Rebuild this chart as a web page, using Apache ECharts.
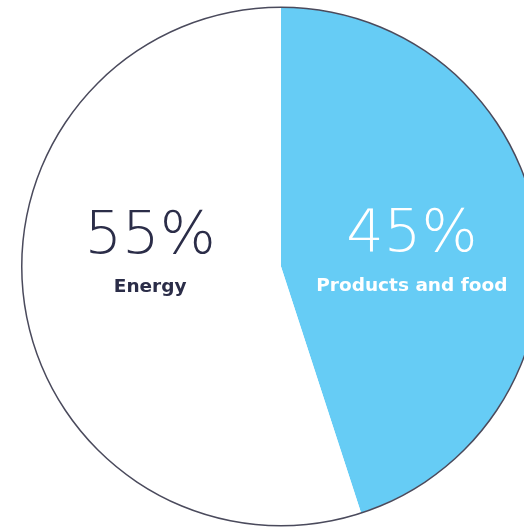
<!DOCTYPE html>
<html>
<head>
<meta charset="utf-8">
<script src="https://cdn.jsdelivr.net/npm/echarts@6/dist/echarts.min.js"></script>
<style>
html,body{margin:0;padding:0;background:#fff;}
#chart{width:524px;height:527px;}
</style>
</head>
<body>
<div id="chart"></div>
<script>
var categories = ['Products and food', 'Energy'];
var shares = [45, 55];
var sliceColors = ['#66ccf5', '#ffffff'];
var labelColors = ['#ffffff', '#2b2d48'];

var chart = echarts.init(document.getElementById('chart'), null, {renderer: 'canvas'});
var labelShift = [2, -38];

var option = {
  animation: false,
  series: [
    {
      type: 'pie',
      center: [281, 266.5],
      radius: [0, 259],
      startAngle: 90,
      clockwise: true,
      silent: true,
      itemStyle: {borderWidth: 0},
      emphasis: {disabled: true},
      labelLine: {show: false},
      label: {
        show: true,
        position: 'inner',
        formatter: '{p|{c}%}\n{n|{b}}'
      },
      labelLayout: function (params) {
        return {dy: labelShift[params.dataIndex]};
      },
      data: categories.map(function (c, i) {
        return {
          name: c,
          value: shares[i],
          itemStyle: {color: sliceColors[i]},
          label: {
            rich: {
              p: {fontFamily: 'DejaVu Sans', fontWeight: 200, fontSize: 59, lineHeight: 76, color: labelColors[i], align: 'center'},
              n: {fontFamily: 'DejaVu Sans', fontWeight: 'bold', fontSize: 18.5, lineHeight: 24, color: labelColors[i], align: 'center'}
            }
          }
        };
      })
    },
    {
      type: 'pie',
      center: [281, 266.5],
      radius: [258.5, 260],
      silent: true,
      emphasis: {disabled: true},
      label: {show: false},
      labelLine: {show: false},
      itemStyle: {color: '#4a4a5c', borderWidth: 0},
      data: [{name: 'outline', value: 1}]
    }
  ]
};
chart.setOption(option);
</script>
</body>
</html>
